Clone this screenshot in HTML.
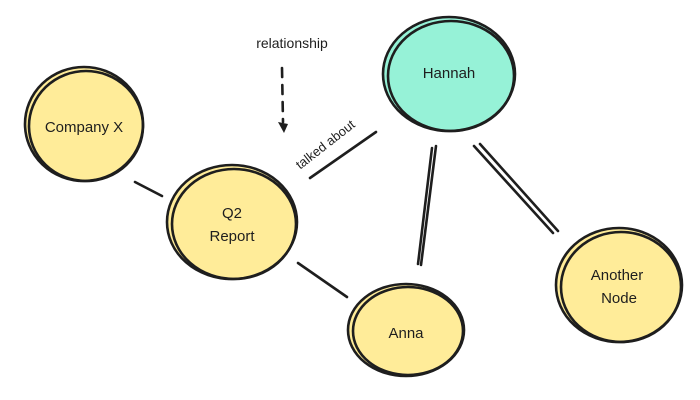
<!DOCTYPE html>
<html><head><meta charset="utf-8"><style>
html,body{margin:0;padding:0;background:#fff;width:700px;height:400px;overflow:hidden}
text{font-family:"Liberation Sans",sans-serif;fill:#1e1e1e}
</style></head><body>
<svg width="700" height="400" viewBox="0 0 700 400" xmlns="http://www.w3.org/2000/svg">
<g stroke="#1e1e1e" stroke-width="2.6" stroke-linecap="round" fill="none">
<!-- edges -->
<line x1="135" y1="182" x2="162" y2="196"/>
<line x1="298" y1="263" x2="347" y2="297"/>
<line x1="310" y1="178" x2="376" y2="132"/>
<line x1="436" y1="146" x2="421" y2="265"/>
<line x1="432" y1="148" x2="418" y2="264"/>
<line x1="474" y1="146" x2="553" y2="233"/>
<line x1="480" y1="144" x2="558" y2="231"/>
<line x1="282" y1="68" x2="283" y2="122" stroke-dasharray="9 8"/>
</g>
<path d="M278 122 L288 124 L284 133 Z" fill="#1e1e1e"/>
<g stroke="#1e1e1e" stroke-width="2.6">
<ellipse cx="84" cy="124" rx="59" ry="57" fill="#ffec99"/>
<ellipse cx="86" cy="126" rx="57" ry="55" fill="none"/>
<ellipse cx="232" cy="222" rx="65" ry="57" fill="#ffec99"/>
<ellipse cx="234" cy="224" rx="62" ry="55" fill="none"/>
<ellipse cx="449" cy="74" rx="66" ry="57" fill="#96f2d7"/>
<ellipse cx="451" cy="76" rx="63" ry="55" fill="none"/>
<ellipse cx="406" cy="330" rx="58" ry="46" fill="#ffec99"/>
<ellipse cx="408" cy="331" rx="55" ry="44" fill="none"/>
<ellipse cx="619" cy="285" rx="63" ry="57" fill="#ffec99"/>
<ellipse cx="621" cy="287" rx="60" ry="55" fill="none"/>
</g>
<g font-size="15" text-anchor="middle">
<text x="84" y="132">Company X</text>
<text x="232" y="218">Q2</text>
<text x="232" y="241">Report</text>
<text x="449" y="78">Hannah</text>
<text x="406" y="338">Anna</text>
<text x="617" y="280">Another</text>
<text x="619" y="303">Node</text>
<text x="292" y="48" font-size="14">relationship</text>
<text x="328" y="148" font-size="13" transform="rotate(-38 328 148)">talked about</text>
</g>
</svg>
</body></html>
